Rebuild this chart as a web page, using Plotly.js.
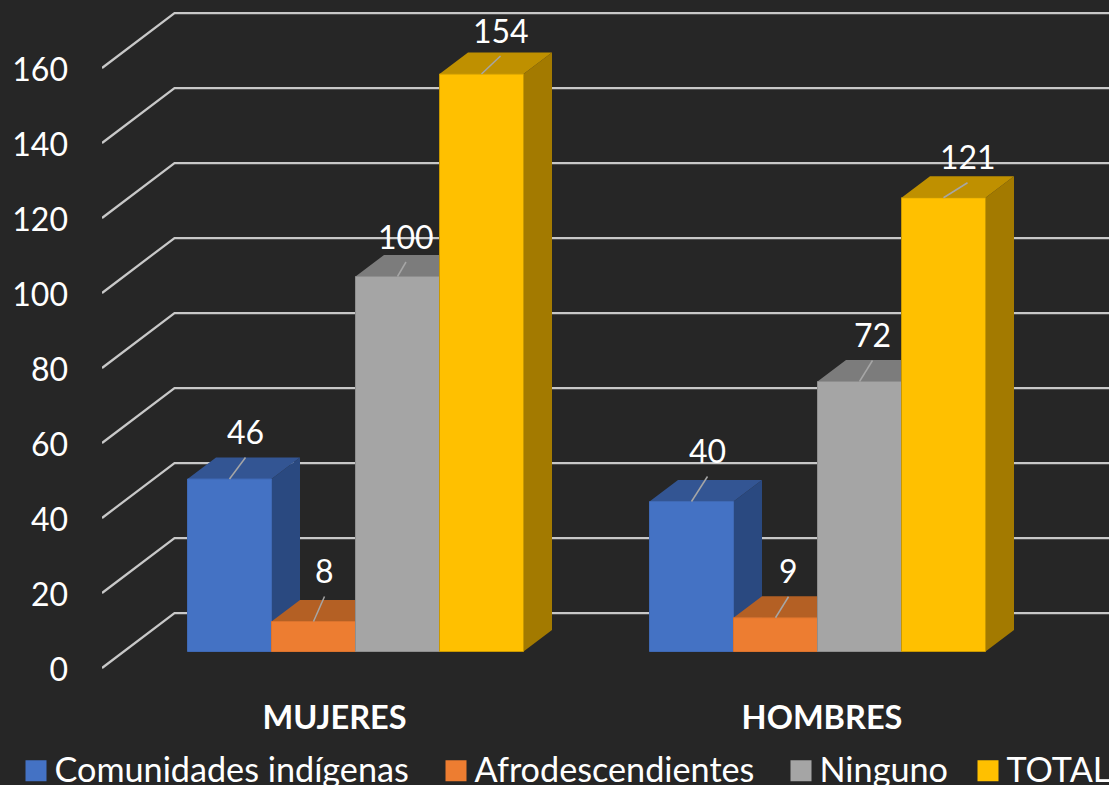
<!DOCTYPE html>
<html>
<head>
<meta charset="utf-8">
<script src="https://cdn.plot.ly/plotly-3.0.1.min.js"></script>
<style>
html,body{margin:0;padding:0;background:#262626;overflow:hidden}
g.legendpoints path{transform:translate(21.5px,2px) scale(1.75);stroke-width:0!important}
</style>
</head>
<body>
<div id="chart" style="width:1109px;height:785px"></div>
<script>
// ---- data ----
const categories = ["MUJERES", "HOMBRES"];
const seriesNames = ["Comunidades indígenas", "Afrodescendientes", "Ninguno", "TOTAL"];
const indigenas = [46, 40];
const afro = [8, 9];
const ninguno = [100, 72];
const total = [154, 121];
const yTicks = [0, 20, 40, 60, 80, 100, 120, 140, 160];

// ---- styles ----
const frontColors = ["#4472C4", "#ED7D31", "#A5A5A5", "#FFC000"];
const edgeColors = ["#3F69B4", "#DB732D", "#8E8E8E", "#C99800"];
const topColors = ["#335593", "#B46024", "#7C7C7C", "#BF9000"];
const sideColors = ["#2A4980", "#8F4C1C", "#636363", "#A37A00"];
const FONT = "Lato, 'Open Sans', sans-serif";
const GRID = "#C8C8C8";

// ---- geometry (pixels on the page) ----
const W = 1109, H = 785, PLOT_L = 102, PLOT_B = 695, LEGEND_TOP = 740;
const PX_CAT = 462, PX_UNIT = 3.75, CAT0 = 355.5;
const BASE_FRONT = 651.5, BASE_AXIS = 668;
const dxOf = px => px / PX_CAT, dyOf = px => px / PX_UNIT;
const xRange = [(PLOT_L - CAT0) / PX_CAT, (W - CAT0) / PX_CAT];
const yRangeFor = base => [(base - PLOT_B) / PX_UNIT, base / PX_UNIT];
const barW = 84 / PX_CAT;
const barD = {x: dxOf(28.5), y: dyOf(21.5)};
const wallD = {x: dxOf(72.5), y: dyOf(55)};

const series = [indigenas, afro, ninguno, total];
const traces = [];

// back wall gridlines and side-wall diagonals
const gx = [], gy = [];
yTicks.forEach(v => {
  gx.push(xRange[0], xRange[0] + wallD.x, xRange[1], null);
  gy.push(v, v + wallD.y, v + wallD.y, null);
});
traces.push({type: "scatter", mode: "lines", x: gx, y: gy, xaxis: "x", yaxis: "y",
  line: {color: GRID, width: 2.25, simplify: false}, showlegend: false, hoverinfo: "skip"});

// depth faces, from the data values
series.forEach((vals, s) => {
  const sx = [], sy = [], tx = [], ty = [];
  vals.forEach((v, c) => {
    const xl = c + (s - 2) * barW, xr = xl + barW;
    sx.push(xr, xr + barD.x, xr + barD.x, xr, xr, null);
    sy.push(0, barD.y, v + barD.y, v, 0, null);
    tx.push(xl, xr, xr + barD.x, xl + barD.x, xl, null);
    ty.push(v, v, v + barD.y, v + barD.y, v, null);
  });
  [[sx, sy, sideColors[s]], [tx, ty, topColors[s]]].forEach(f => {
    traces.push({type: "scatter", mode: "lines", x: f[0], y: f[1], xaxis: "x2", yaxis: "y2",
      fill: "toself", fillcolor: f[2], line: {width: 0, color: f[2]},
      showlegend: false, hoverinfo: "skip"});
  });
});

// front faces
series.forEach((vals, s) => {
  traces.push({type: "bar", name: seriesNames[s], x: categories.map((_, i) => i), y: vals,
    xaxis: "x3", yaxis: "y3", legend: s === 0 ? "legend" : "legend" + (s + 1),
    marker: {color: frontColors[s], line: {color: edgeColors[s], width: 1}},
    hoverinfo: "x+y+name"});
});

// data label leaders: [dx, dy] in pixels for each series and category
const leaderOffsets = [
  [[16, 21.5], [16, 25]],
  [[11, 25], [13, 21]],
  [[8.5, 14.5], [13, 21]],
  [[19, 18], [24, 15]]
];
const lx = [], ly = [], annotations = [];
series.forEach((vals, s) => {
  vals.forEach((v, c) => {
    const x0 = c + (s - 1.5) * barW;
    const x1 = x0 + dxOf(leaderOffsets[s][c][0]);
    const y1 = v + dyOf(leaderOffsets[s][c][1]);
    lx.push(x0, x1, null);
    ly.push(v, y1, null);
    annotations.push({x: x1, y: y1, xref: "x3", yref: "y3", text: String(v), showarrow: false,
      yshift: 26, xanchor: "center", yanchor: "middle",
      font: {family: FONT, size: 32, color: "#FFFFFF"}});
  });
});
traces.push({type: "scatter", mode: "lines", x: lx, y: ly, xaxis: "x3", yaxis: "y3",
  line: {color: "#A6A6A6", width: 1.5}, showlegend: false, hoverinfo: "skip"});

// category label anchors are off-centre in the source chart
const catLabelShiftPx = [-21, 4.5];
const tickLabelShiftPx = 1.5;

const hiddenX = {range: xRange, visible: false, fixedrange: true};
const hiddenY = {range: yRangeFor(BASE_FRONT), visible: false, fixedrange: true};

const legendAt = px => ({
  x: (px - PLOT_L) / (W - PLOT_L), xanchor: "left",
  y: -(LEGEND_TOP - PLOT_B) / PLOT_B, yanchor: "top", orientation: "h",
  bgcolor: "rgba(0,0,0,0)", borderwidth: 0,
  font: {family: FONT, size: 34.2, color: "#FFFFFF"}
});

const layout = {
  width: W, height: H,
  paper_bgcolor: "#262626", plot_bgcolor: "rgba(0,0,0,0)",
  margin: {l: PLOT_L, r: 0, t: 0, b: H - PLOT_B, pad: 0, autoexpand: false},
  barmode: "group", bargap: 1 - 4 * barW, bargroupgap: 0,
  showlegend: true,
  legend: legendAt(14.5), legend2: legendAt(434.5), legend3: legendAt(779.5), legend4: legendAt(966.5),
  annotations: annotations,
  xaxis: {
    range: xRange, fixedrange: true, showgrid: false, zeroline: false, showline: false,
    tickmode: "array", tickvals: categories.map((_, i) => i + catLabelShiftPx[i] / PX_CAT),
    ticktext: categories.map(c => "<b>" + c + "</b>"), ticks: "",
    tickfont: {family: FONT, size: 32.5, color: "#FFFFFF"}
  },
  yaxis: {
    range: yRangeFor(BASE_AXIS), fixedrange: true, showgrid: false, zeroline: false, showline: false,
    tickmode: "array", tickvals: yTicks.map(v => v - dyOf(tickLabelShiftPx)), ticktext: yTicks.map(String), ticks: "",
    ticklabelstandoff: 33,
    tickfont: {family: FONT, size: 32, color: "#FFFFFF"}
  },
  xaxis2: Object.assign({anchor: "y2"}, hiddenX),
  yaxis2: Object.assign({anchor: "x2"}, hiddenY),
  xaxis3: Object.assign({anchor: "y3"}, hiddenX),
  yaxis3: Object.assign({anchor: "x3"}, hiddenY)
};

Plotly.newPlot("chart", traces, layout, {displayModeBar: false, staticPlot: true});
</script>
</body>
</html>
